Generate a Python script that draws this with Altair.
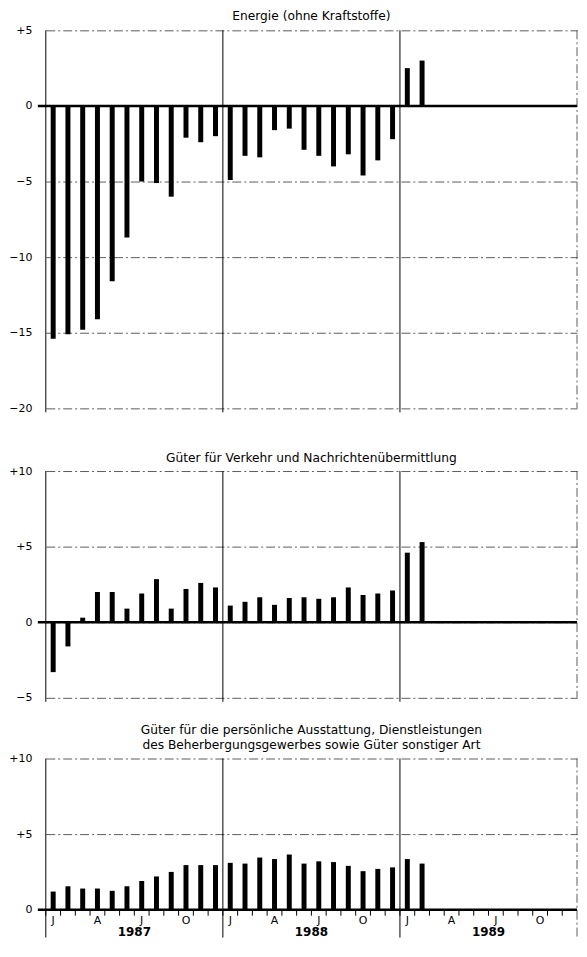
import altair as alt
import pandas as pd

months = [
    "1987-01", "1987-02", "1987-03", "1987-04", "1987-05", "1987-06",
    "1987-07", "1987-08", "1987-09", "1987-10", "1987-11", "1987-12",
    "1988-01", "1988-02", "1988-03", "1988-04", "1988-05", "1988-06",
    "1988-07", "1988-08", "1988-09", "1988-10", "1988-11", "1988-12",
    "1989-01", "1989-02", "1989-03", "1989-04", "1989-05", "1989-06",
    "1989-07", "1989-08", "1989-09", "1989-10", "1989-11", "1989-12",
]
year_starts = ["1987-01", "1988-01", "1989-01"]
year_mid = ["1987-07", "1988-07", "1989-07"]
year_labels = ["1987", "1988", "1989"]

titles = [
    "Energie (ohne Kraftstoffe)",
    "Güter für Verkehr und Nachrichtenübermittlung",
    "Güter für die persönliche Ausstattung, Dienstleistungen\n"
    "des Beherbergungsgewerbes sowie Güter sonstiger Art",
]

energie = [-15.4, -15.1, -14.8, -14.1, -11.6, -8.7, -5.0, -5.1, -6.0, -2.1, -2.4, -2.0,
           -4.9, -3.3, -3.4, -1.6, -1.5, -2.9, -3.3, -4.0, -3.2, -4.6, -3.6, -2.2,
           2.5, 3.0]
verkehr = [-3.3, -1.6, 0.3, 2.0, 2.0, 0.9, 1.9, 2.85, 0.9, 2.2, 2.6, 2.3,
           1.1, 1.35, 1.65, 1.15, 1.6, 1.65, 1.55, 1.65, 2.3, 1.8, 1.9, 2.1,
           4.6, 5.3]
sonstige = [1.2, 1.55, 1.4, 1.4, 1.25, 1.55, 1.9, 2.2, 2.5, 2.95, 2.95, 2.95,
            3.1, 3.05, 3.45, 3.35, 3.65, 3.05, 3.2, 3.15, 2.9, 2.55, 2.7, 2.8,
            3.35, 3.05]

W = 534
UNIT = 15.2
FONT = "DejaVu Sans"
GRID_DASH = [9, 3, 2, 3]

month_letter = ("slice(datum.value, 5) == '01' ? 'J' : slice(datum.value, 5) == '04' ? 'A' : "
                "slice(datum.value, 5) == '07' ? 'J' : slice(datum.value, 5) == '10' ? 'O' : ''")


def panel(values, title, ymin, ymax, title_top, last=False):
    h = round((ymax - ymin) * UNIT)
    df = pd.DataFrame({"month": months[:len(values)], "value": values})
    xscale = alt.Scale(domain=months, paddingInner=0, paddingOuter=0)
    yscale = alt.Scale(domain=[ymin, ymax], nice=False, zero=False)

    if last:
        xaxis = alt.Axis(labelExpr=month_letter, ticks=False, domain=False, grid=False,
                         labelAngle=0, labelPadding=5, labelFontSize=11, labelFont=FONT,
                         labelColor="black", labelOverlap=False, title=None)
    else:
        xaxis = None

    yaxis = alt.Axis(values=list(range(ymin, ymax + 1, 5)), grid=True, gridColor="#333",
                     gridWidth=0.8, gridDash=GRID_DASH, ticks=False, domain=False,
                     labelPadding=14, labelFontSize=11, labelFont=FONT, labelColor="black",
                     labelExpr="datum.value > 0 ? '+' + datum.label : datum.label",
                     title=None)

    bars = alt.Chart(df).mark_bar(width=5, color="black").encode(
        x=alt.X("month:O", scale=xscale, axis=xaxis),
        y=alt.Y("value:Q", scale=yscale, axis=yaxis),
        y2=alt.datum(0),
    )

    ext = 28 if last else 4
    ylines = alt.Chart(pd.DataFrame({"month": year_starts})).mark_rule(
        color="black", strokeWidth=1).encode(
        x=alt.X("month:O", scale=xscale, bandPosition=0, axis=xaxis),
        y=alt.value(0), y2=alt.value(h + ext),
    )
    right_edge = alt.Chart(pd.DataFrame({"month": ["1989-12"]})).mark_rule(
        color="#333", strokeWidth=0.8, strokeDash=GRID_DASH).encode(
        x=alt.X("month:O", scale=xscale, bandPosition=1, axis=xaxis),
        y=alt.value(0), y2=alt.value(h + (ext if last else 0)),
    )
    zero = alt.Chart(pd.DataFrame({"z": [0]})).mark_rule(
        color="black", strokeWidth=2.5).encode(
        y=alt.Y("z:Q", scale=yscale, axis=yaxis),
        x=alt.value(-8), x2=alt.value(W),
    )
    head = alt.Chart(pd.DataFrame({"t": [title]})).mark_text(
        font=FONT, fontSize=12.3, baseline="top", align="center", lineBreak="\n",
        lineHeight=15, color="black").encode(
        text="t:N", x=alt.value(W / 2), y=alt.value(title_top),
    )
    layers = [bars, ylines, right_edge, zero, head]
    if last:
        ticks = alt.Chart(pd.DataFrame({"month": months})).mark_rule(
            color="black", strokeWidth=1).encode(
            x=alt.X("month:O", scale=xscale, bandPosition=0, axis=xaxis),
            y=alt.value(h), y2=alt.value(h + 6),
        )
        years = alt.Chart(pd.DataFrame({"month": year_mid, "year": year_labels})).mark_text(
            fontWeight="bold", fontSize=12, font=FONT, baseline="middle", color="black").encode(
            x=alt.X("month:O", scale=xscale, bandPosition=0, axis=xaxis),
            y=alt.value(h + 22),
            text="year:N",
        )
        layers += [ticks, years]

    return alt.layer(*layers).properties(width=W, height=h)


p1 = panel(energie, titles[0], -20, 5, -20)
p2 = panel(verkehr, titles[1], -5, 10, -19)
p3 = panel(sonstige, titles[2], 0, 10, -35, last=True)

chart = alt.vconcat(p1, alt.vconcat(p2, p3, spacing=21), spacing=39).properties(
    padding=0, background="white"
).configure_view(stroke=None)

chart.save("out.html", embed_options={"renderer": "svg", "actions": False})
